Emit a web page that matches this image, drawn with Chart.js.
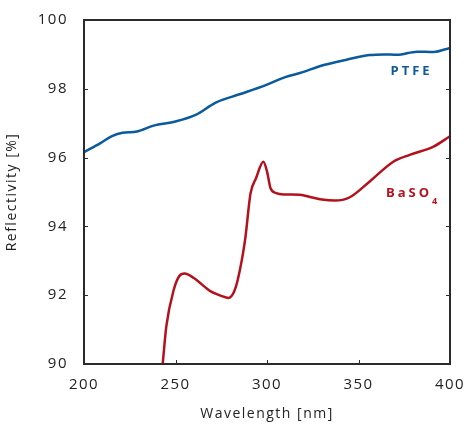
<!DOCTYPE html>
<html>
<head>
<meta charset="utf-8">
<script src="https://cdn.jsdelivr.net/npm/chart.js@4"></script>
<style>
  html, body { margin: 0; padding: 0; background: #fff; }
  #wrap { width: 472px; height: 426px; }
</style>
</head>
<body>
<div id="wrap"><canvas id="grafico"></canvas></div>
<script>
const xTicks = [200, 250, 300, 350, 400];
const yTicks = [90, 92, 94, 96, 98, 100];

const ptfeWl = [200, 209, 215, 221, 229, 238, 250, 261, 272, 285, 299, 310, 318, 331, 343, 356, 364, 371, 382, 391, 400];
const ptfeVal = [96.16, 96.42, 96.62, 96.72, 96.76, 96.93, 97.05, 97.24, 97.6, 97.84, 98.1, 98.34, 98.46, 98.69, 98.84, 98.98, 99.0, 98.99, 99.08, 99.07, 99.19];

const basoWl = [243, 245, 249, 252, 255, 260, 269, 275, 279, 282, 284, 288, 291, 294, 298, 300, 302, 305, 309, 318, 324, 330, 337, 345, 356, 369, 378, 391, 400];
const basoVal = [90, 91.1, 92.15, 92.55, 92.63, 92.5, 92.12, 91.98, 91.92, 92.1, 92.44, 93.6, 94.96, 95.4, 95.88, 95.6, 95.1, 94.97, 94.93, 94.92, 94.85, 94.78, 94.75, 94.84, 95.3, 95.88, 96.08, 96.32, 96.62];

const blue = '#0b5a9c';
const red = '#b3111c';

function pts(xs, ys) {
  return xs.map((x, i) => ({ x: x, y: ys[i] }));
}

// caixa, marcas internas e rótulos das séries
const frame = {
  id: 'frame',
  beforeDraw(chart) {
    chart.ctx.letterSpacing = '1.5px';
  },
  afterDraw(chart) {
    const c = chart.ctx;
    const a = chart.chartArea;
    const xs = chart.scales.x;
    const ys = chart.scales.y;
    c.save();
    c.strokeStyle = '#2b2b2b';
    c.lineWidth = 2;
    c.strokeRect(a.left, a.top, a.right - a.left, a.bottom - a.top);
    c.lineWidth = 1;
    c.beginPath();
    xTicks.forEach(v => {
      const px = Math.round(xs.getPixelForValue(v)) + 0.5;
      c.moveTo(px, a.bottom); c.lineTo(px, a.bottom - 4);
    });
    yTicks.forEach(v => {
      const py = Math.round(ys.getPixelForValue(v)) + 0.5;
      c.moveTo(a.left, py); c.lineTo(a.left + 4, py);
      c.moveTo(a.right, py); c.lineTo(a.right - 4, py);
    });
    c.stroke();

    c.letterSpacing = '3px';
    c.font = 'bold 13px "Open Sans"';
    c.textBaseline = 'middle';
    c.textAlign = 'left';
    c.fillStyle = blue;
    c.fillText('PTFE', xs.getPixelForValue(367.5), ys.getPixelForValue(98.5));
    c.fillStyle = red;
    const bx = xs.getPixelForValue(365);
    const by = ys.getPixelForValue(94.95);
    c.fillText('BaSO', bx, by);
    const w = c.measureText('BaSO').width;
    c.font = 'bold 9px "Open Sans"';
    c.fillText('4', bx + w, by + 8);
    c.restore();
  }
};

new Chart(document.getElementById('grafico').getContext('2d'), {
  type: 'line',
  data: {
    datasets: [
      {
        label: 'PTFE',
        data: pts(ptfeWl, ptfeVal),
        borderColor: blue,
        borderWidth: 2.5,
        pointRadius: 0,
        cubicInterpolationMode: 'monotone'
      },
      {
        label: 'BaSO4',
        data: pts(basoWl, basoVal),
        borderColor: red,
        borderWidth: 2.5,
        pointRadius: 0,
        cubicInterpolationMode: 'monotone'
      }
    ]
  },
  options: {
    responsive: true,
    maintainAspectRatio: false,
    animation: false,
    layout: { padding: { top: 20, right: 22, left: 0, bottom: 0 } },
    plugins: {
      legend: { display: false },
      tooltip: { enabled: false }
    },
    scales: {
      x: {
        type: 'linear',
        min: 200,
        max: 400,
        afterBuildTicks: s => { s.ticks = xTicks.map(v => ({ value: v })); },
        afterFit: s => { s.height = 62; },
        ticks: {
          color: '#222',
          padding: 4,
          maxRotation: 0,
          font: { family: 'Open Sans', size: 15 }
        },
        grid: { display: false },
        border: { display: false },
        title: {
          display: true,
          text: 'Wavelength [nm]',
          color: '#222',
          padding: { top: 8 },
          font: { family: 'Open Sans', size: 14 }
        }
      },
      y: {
        min: 90,
        max: 100,
        afterBuildTicks: s => { s.ticks = yTicks.map(v => ({ value: v })); },
        afterFit: s => { s.width = 84; },
        ticks: {
          color: '#222',
          padding: 8,
          font: { family: 'Open Sans', size: 15 }
        },
        grid: { display: false },
        border: { display: false },
        title: {
          display: true,
          text: 'Reflectivity [%]',
          color: '#222',
          padding: { bottom: 6 },
          font: { family: 'Open Sans', size: 14 }
        }
      }
    }
  },
  plugins: [frame]
});
</script>
</body>
</html>
